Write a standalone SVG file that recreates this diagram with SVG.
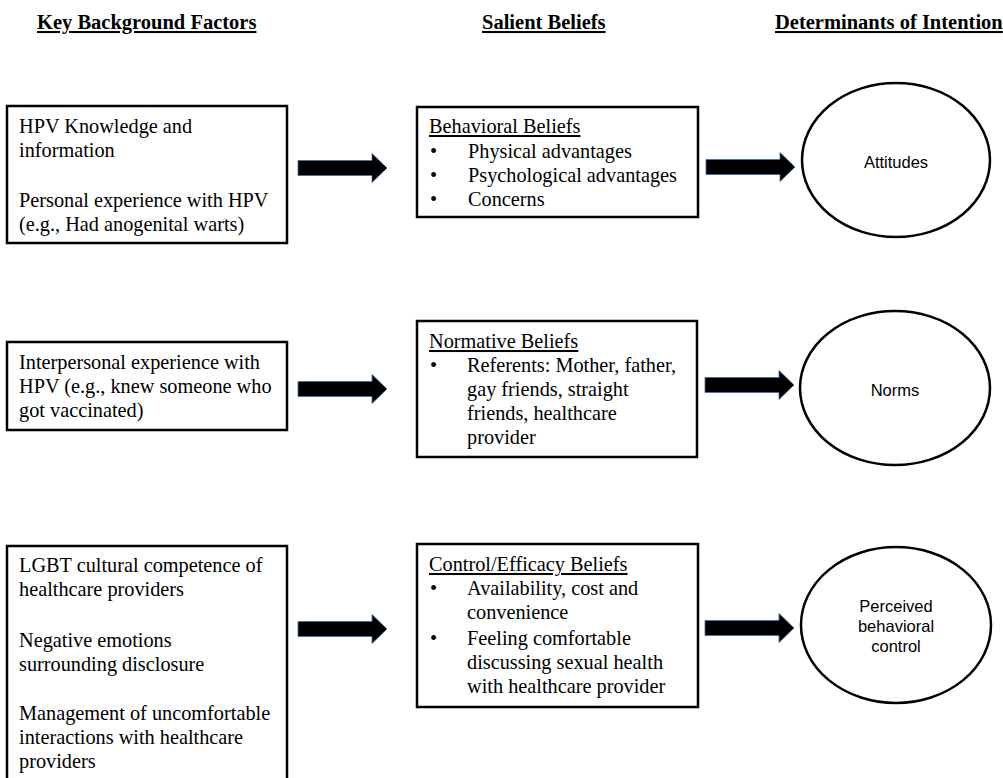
<svg xmlns="http://www.w3.org/2000/svg" width="1003" height="778" viewBox="0 0 1003 778">
<style>
.hdr{font-family:"Liberation Serif","Times New Roman",serif;font-size:20.5px;font-weight:bold;text-decoration:underline;fill:#000}
.t{font-family:"Liberation Serif","Times New Roman",serif;font-size:20.3px;fill:#000}
.u{text-decoration:underline}
.c{font-family:"Liberation Sans",Arial,sans-serif;font-size:16.5px;fill:#000;text-anchor:middle}
.box{fill:#fff;stroke:#000;stroke-width:2.5}
.ell{fill:#fff;stroke:#000;stroke-width:2.5}
.arr{fill:#000;stroke:#3f6f9f;stroke-width:0.8}
</style>
<rect width="1003" height="778" fill="#fff"/>
<g id="headers">
<text class="hdr" x="37" y="29">Key Background Factors</text>
<text class="hdr" x="482" y="29">Salient Beliefs</text>
<text class="hdr" x="775" y="29">Determinants of Intention</text>
</g>
<g id="connectors">
<path class="arr" d="M298,160.5 H372 V153.5 L387,168 L372,182.5 V175.5 H298 Z"/>
<path class="arr" d="M706,159.5 H780 V152.5 L795,167 L780,181.5 V174.5 H706 Z"/>
<path class="arr" d="M298,381.5 H372 V374.5 L387,389 L372,403.5 V396.5 H298 Z"/>
<path class="arr" d="M705,377.5 H779 V370.5 L794,385 L779,399.5 V392.5 H705 Z"/>
<path class="arr" d="M298,621.5 H372 V614.5 L387,629 L372,643.5 V636.5 H298 Z"/>
<path class="arr" d="M705,620.5 H779 V613.5 L794,628 L779,642.5 V635.5 H705 Z"/>
</g>
<g id="bg1">
<rect class="box" x="7" y="106" width="280" height="137"/>
<text class="t" x="19" y="133">HPV Knowledge and</text>
<text class="t" x="19" y="157">information</text>
<text class="t" x="19" y="207">Personal experience with HPV</text>
<text class="t" x="19" y="231">(e.g., Had anogenital warts)</text>
</g>
<g id="bg2">
<rect class="box" x="7" y="342" width="280" height="88"/>
<text class="t" x="19" y="369">Interpersonal experience with</text>
<text class="t" x="19" y="393">HPV (e.g., knew someone who</text>
<text class="t" x="19" y="417">got vaccinated)</text>
</g>
<g id="bg3">
<rect class="box" x="7" y="546" width="280" height="250"/>
<text class="t" x="19" y="572">LGBT cultural competence of</text>
<text class="t" x="19" y="596">healthcare providers</text>
<text class="t" x="19" y="647">Negative emotions</text>
<text class="t" x="19" y="671">surrounding disclosure</text>
<text class="t" x="19" y="720">Management of uncomfortable</text>
<text class="t" x="19" y="744">interactions with healthcare</text>
<text class="t" x="19" y="768">providers</text>
</g>
<g id="sb1">
<rect class="box" x="417" y="107" width="281" height="110"/>
<text class="t u" x="429" y="133">Behavioral Beliefs</text>
<text class="t" x="430" y="158">•</text><text class="t" x="468" y="158">Physical advantages</text>
<text class="t" x="430" y="182">•</text><text class="t" x="468" y="182">Psychological advantages</text>
<text class="t" x="430" y="206">•</text><text class="t" x="468" y="206">Concerns</text>
</g>
<g id="sb2">
<rect class="box" x="417" y="321" width="280" height="136"/>
<text class="t u" x="429" y="348">Normative Beliefs</text>
<text class="t" x="430" y="372">•</text><text class="t" x="467" y="372">Referents: Mother, father,</text>
<text class="t" x="467" y="396">gay friends, straight</text>
<text class="t" x="467" y="420">friends, healthcare</text>
<text class="t" x="467" y="444">provider</text>
</g>
<g id="sb3">
<rect class="box" x="417" y="544" width="281" height="163"/>
<text class="t u" x="429" y="571">Control/Efficacy Beliefs</text>
<text class="t" x="430" y="595">•</text><text class="t" x="467" y="595">Availability, cost and</text>
<text class="t" x="467" y="619">convenience</text>
<text class="t" x="430" y="645">•</text><text class="t" x="467" y="645">Feeling comfortable</text>
<text class="t" x="467" y="669">discussing sexual health</text>
<text class="t" x="467" y="693">with healthcare provider</text>
</g>
<g id="attitudes">
<ellipse class="ell" cx="896" cy="160" rx="94" ry="77"/>
<text class="c" x="896" y="168">Attitudes</text>
</g>
<g id="norms">
<ellipse class="ell" cx="895" cy="388" rx="95" ry="77"/>
<text class="c" x="895" y="396">Norms</text>
</g>
<g id="pbc">
<ellipse class="ell" cx="896" cy="625" rx="95" ry="78"/>
<text class="c" x="896" y="612">Perceived</text>
<text class="c" x="896" y="632">behavioral</text>
<text class="c" x="896" y="652">control</text>
</g>
</svg>
